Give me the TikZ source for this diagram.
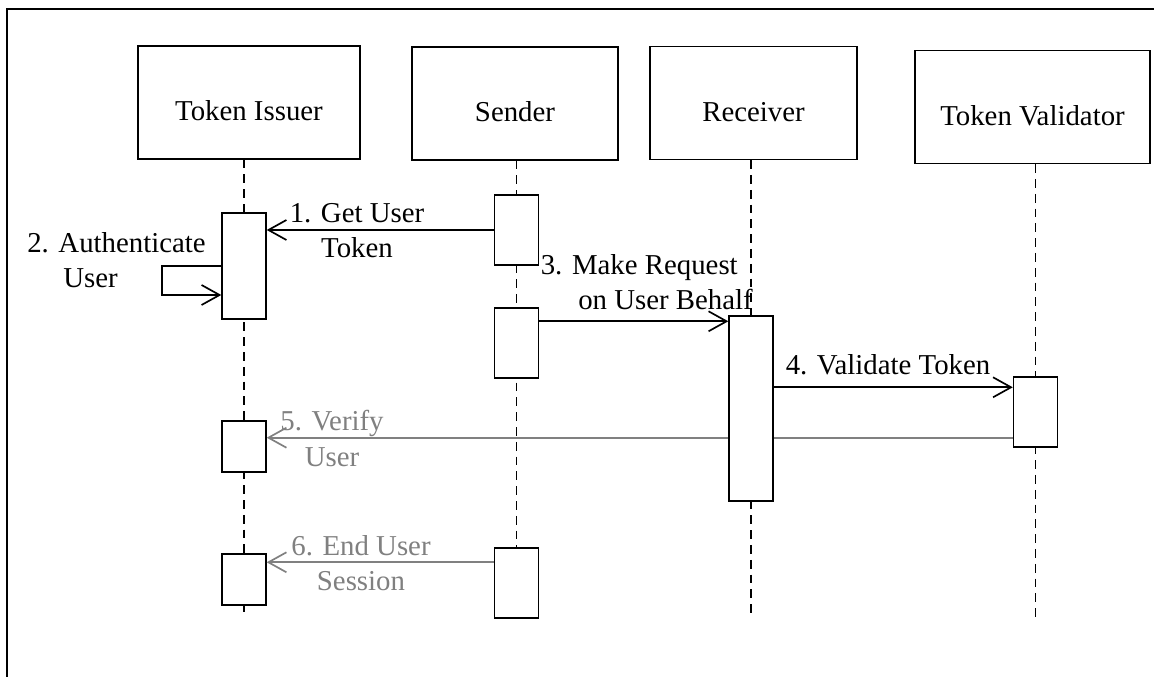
\documentclass[tikz,border=0pt]{standalone}
\usepackage{fontspec}
\setmainfont{Liberation Serif}
\usepackage{tikz}
\usetikzlibrary{arrows.meta,backgrounds,calc,positioning}

\begin{document}
\begin{tikzpicture}[font=\fontsize{20.5}{25}\selectfont,
>={Straight Barb[length=0.45cm,width=0.5cm]},
head/.style={draw,line width=1pt,minimum width=#1,minimum height=2.825cm,text height=26pt,text depth=0pt,inner sep=0pt},
act/.style={draw,fill=white,line width=1pt,minimum width=1.1cm,minimum height=#1,inner sep=0pt},
life/.style={line width=1.2pt,dash pattern=on 0.22cm off 0.15cm},
msg/.style={->,line width=1.2pt},
reply/.style={msg,gray}]
\useasboundingbox (0cm,0cm) rectangle (28.85cm,-16.925cm);
\clip (0cm,0cm) rectangle (28.85cm,-16.925cm);
\draw[line width=1.6pt] (0.175cm,-0.225cm) rectangle (30cm,-18cm);
\node[head=5.55cm] (1) at (6.225 cm,-2.5625cm) {Token Issuer};
\node[head=5.15cm] (2) at (12.875 cm,-2.5875cm) {Sender};
\node[head=5.175cm] (3) at (18.8375 cm,-2.575cm) {Receiver};
\node[head=5.875cm] (4) at (25.8125 cm,-2.675cm) {Token Validator};
\node[act=2.65cm] (5) at (6.1 cm,-6.65cm) {};
\node[act=1.275cm] (6) at (6.1 cm,-11.1625cm) {};
\node[act=1.275cm] (7) at (6.1 cm,-14.4875cm) {};
\node[act=1.75cm] (8) at (12.9125 cm,-5.75cm) {};
\node[act=1.75cm] (9) at (12.9125 cm,-8.575cm) {};
\node[act=1.75cm] (10) at (12.9125 cm,-14.575cm) {};
\node[act=4.625cm] (11) at (18.775 cm,-10.2125cm) {};
\node[act=1.75cm] (12) at (25.8875 cm,-10.3cm) {};
\coordinate (e1) at (6.1 cm,-15.375cm);
\coordinate (e2) at (12.9125 cm,-15cm);
\coordinate (e3) at (18.775 cm,-15.375cm);
\coordinate (e4) at (25.8875 cm,-15.475cm);
\coordinate (m3) at ([yshift=-0.15cm]11.north west);
\coordinate (m4) at ([yshift=-0.275cm]12.north west);
\coordinate (m5) at ([yshift=0.25cm]12.south west);
\coordinate (m6) at ([yshift=-0.225cm]7.north east);
\begin{scope}[on background layer]
\draw[reply] (m5) -- (m5 -| 6.east);
\draw[life] (1.south -| e1) -- (e1);
\draw[life] (2.south -| e2) -- (e2);
\draw[life] (3.south -| e3) -- (e3);
\draw[life] (4.south -| e4) -- (e4);
\end{scope}
\draw[msg] (8.west) -- (8.west -| 5.east);
\draw[msg] (5.west) -- ++(-1.475cm,0) |- ([yshift=-0.725cm]5.west);
\draw[msg] (m3 -| 9.east) -- (m3);
\draw[msg] (m4 -| 11.east) -- (m4);
\draw[reply] (m6 -| 10.west) -- (m6);
\node[align=center] (13) at (8.925 cm,-5.7625cm) {1. Get User\\Token};
\node[align=left,anchor=west,inner sep=0pt] (14) at (0.675 cm,-6.5cm) {2. Authenticate\\\hspace*{0.9cm}User};
\node[align=right,anchor=east,inner sep=0pt] (15) at (18.825 cm,-7.0625cm) {3. Make Request\hspace*{0.375cm}\\on User Behalf};
\node (16) at (22.2 cm,-9.125cm) {4. Validate Token};
\node[align=center,gray] (17) at (8.3 cm,-10.9625cm) {5. Verify\\User};
\node[align=center,gray] (18) at (9.025 cm,-14.0875cm) {6. End User\\Session};
\end{tikzpicture}
\end{document}
